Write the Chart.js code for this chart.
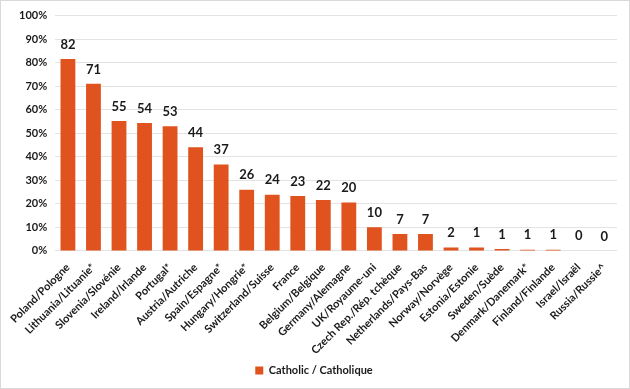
<!DOCTYPE html>
<html><head><meta charset="utf-8">
<script src="https://cdn.jsdelivr.net/npm/chart.js@4/dist/chart.umd.min.js"></script>
<style>
html,body{margin:0;padding:0;background:#fff;}
#wrap{position:absolute;left:0;top:0;width:628px;height:387px;border:1px solid #d9d9d9;}
</style></head><body>
<div id="wrap"><canvas id="c" width="628" height="387"></canvas></div>
<script>
const categories = ["Poland/Pologne","Lithuania/Lituanie*","Slovenia/Slovénie","Ireland/Irlande","Portugal*","Austria/Autriche","Spain/Espagne*","Hungary/Hongrie*","Switzerland/Suisse","France","Belgium/Belgique","Germany/Alemagne","UK/Royaume-uni","Czech Rep./Rép. tchèque","Netherlands/Pays-Bas","Norway/Norvège","Estonia/Estonie","Sweden/Suède","Denmark/Danemark*","Finland/Finlande","Israel/Israël","Russia/Russie^"];
const catholicValues = [81.6,71,55.2,54.4,53,44,36.7,26,23.9,23.3,21.6,20.6,10,7.2,7.2,1.4,1.4,0.8,0.5,0.5,0.2,0];
const valueLabels = ["82","71","55","54","53","44","37","26","24","23","22","20","10","7","7","2","1","1","1","1","0","0"];
const seriesName = "Catholic / Catholique";
const yTicks = [0,10,20,30,40,50,60,70,80,90,100];

const labelPlugin = {
  id:'valLabels',
  afterDatasetsDraw(chart){
    const ctx = chart.ctx;
    const meta = chart.getDatasetMeta(0);
    ctx.save();
    ctx.font = "bold 13px Lato, 'Open Sans', sans-serif";
    ctx.fillStyle = "#1a1a1a";
    ctx.textAlign = "center";
    ctx.textBaseline = "bottom";
    meta.data.forEach((bar,i)=>{
      ctx.fillText(valueLabels[i], bar.x, bar.y - 8);
    });
    ctx.restore();
  }
};

new Chart(document.getElementById('c'), {
  type:'bar',
  data:{labels:categories, datasets:[{label:seriesName, data:catholicValues, backgroundColor:'#E0531F', barPercentage:0.58, categoryPercentage:1.0}]},
  options:{
    responsive:false, animation:false,
    layout:{padding:{left:10,right:12,top:8,bottom:2}},
    plugins:{
      legend:{position:'bottom', labels:{boxWidth:8, boxHeight:8, color:'#1a1a1a', font:{family:"Lato, 'Open Sans', sans-serif", size:11, weight:'bold'}, padding:6}},
      tooltip:{enabled:false}
    },
    scales:{
      x:{grid:{display:false}, border:{display:false},
         ticks:{minRotation:45, maxRotation:45, autoSkip:false, color:'#1a1a1a', padding:2, font:{family:"Lato, 'Open Sans', sans-serif", size:11, weight:'bold'}}},
      y:{min:0,max:100, grid:{color:'#e3e3e3', drawTicks:false}, border:{display:false},
         afterBuildTicks(axis){axis.ticks = yTicks.map(v=>({value:v}));},
         ticks:{padding:8, color:'#1a1a1a', callback:v=>v+'%', font:{family:"Lato, 'Open Sans', sans-serif", size:11, weight:'bold'}}}
    }
  },
  plugins:[labelPlugin]
});
</script></body></html>
